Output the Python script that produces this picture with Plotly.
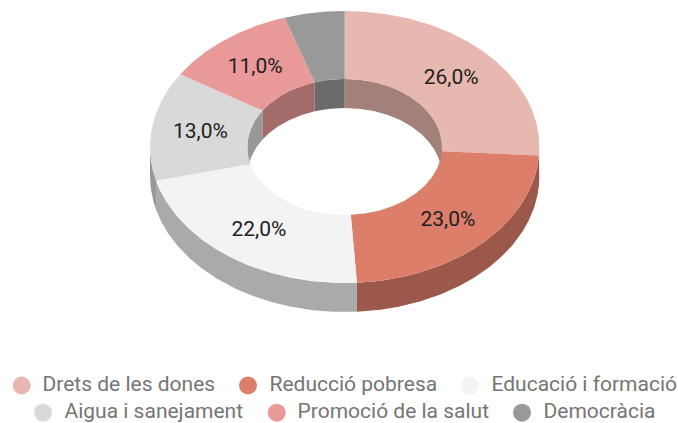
import numpy as np
import plotly.graph_objects as go

categories = ["Drets de les dones", "Reducció pobresa", "Educació i formació",
              "Aigua i sanejament", "Promoció de la salut", "Democràcia"]
values = [26, 23, 22, 13, 11, 5]
colors = ["#E6B8AF", "#DD7E6B", "#F3F3F3", "#D9D9D9", "#EA9999", "#999999"]

# Layout of the drawing, in pixels of the 678x423 canvas
W, H = 678, 423
CX, CY, RX, RY = 344.7, 147.0, 194.7, 136.0
HOLE = 0.5
DEPTH = 29.0
SHADE = 0.7
LABEL_DY = 1.5
LEGEND_MARK_X = [21.7, 248.0, 470.0, 43.0, 276.7, 522.0]
LEGEND_TEXT_X = [42.5, 269.5, 491.5, 64.5, 297.5, 543.5]
LEGEND_Y = [385.5, 385.5, 385.5, 412.7, 412.7, 412.7]
MIN_LABEL = 10


def arc(a0, a1, scale, dy=0.0):
    n = max(2, int(abs(a1 - a0)) * 2 + 2)
    t = np.radians(np.linspace(a0, a1, n))
    return CX + RX * scale * np.sin(t), CY - RY * scale * np.cos(t) + dy


def darker(hex_color):
    r, g, b = (int(hex_color[i:i + 2], 16) for i in (1, 3, 5))
    return f"rgb({r * SHADE:.0f},{g * SHADE:.0f},{b * SHADE:.0f})"


def poly(xs, ys, color):
    return go.Scatter(x=np.concatenate(xs), y=np.concatenate(ys), mode="lines",
                      line=dict(width=0), fill="toself", fillcolor=color,
                      hoverinfo="skip", showlegend=False)


total = sum(values)
edges = np.concatenate([[0], np.cumsum(values)]) * 360.0 / total
fig = go.Figure()

# Walls: outer one on the front half, inner one on the back half
for i, c in enumerate(colors):
    a0, a1 = edges[i], edges[i + 1]
    o0, o1 = max(a0, 90), min(a1, 270)
    if o1 > o0:
        x1, y1 = arc(o0, o1, 1)
        x2, y2 = arc(o1, o0, 1, DEPTH)
        fig.add_trace(poly([x1, x2], [y1, y2], darker(c)))
    for b0, b1 in ((a0, min(a1, 90)), (max(a0, 270), a1)):
        if b1 > b0:
            x1, y1 = arc(b0, b1, HOLE)
            x2, y2 = arc(b1, b0, HOLE, DEPTH)
            fig.add_trace(poly([x1, x2], [y1, y2], darker(c)))

# Top faces
for i, c in enumerate(colors):
    a0, a1 = edges[i], edges[i + 1]
    x1, y1 = arc(a0, a1, 1)
    x2, y2 = arc(a1, a0, HOLE)
    fig.add_trace(poly([x1, x2], [y1, y2], c))

# Slice labels
mid = np.radians((edges[:-1] + edges[1:]) / 2)
rm = (1 + HOLE) / 2
keep = [i for i, v in enumerate(values) if v >= MIN_LABEL]
fig.add_trace(go.Scatter(
    x=[CX + RX * rm * np.sin(mid[i]) for i in keep],
    y=[CY - RY * rm * np.cos(mid[i]) + LABEL_DY for i in keep],
    text=[f"{values[i]:.1f}%".replace(".", ",") for i in keep],
    mode="text", textposition="middle center",
    textfont=dict(family="Roboto", size=21, color="#212121"),
    hoverinfo="skip", showlegend=False))

# Legend
fig.add_trace(go.Scatter(x=LEGEND_MARK_X, y=LEGEND_Y, mode="markers",
                         marker=dict(size=18, color=colors, line=dict(width=0)),
                         hoverinfo="skip", showlegend=False))
fig.add_trace(go.Scatter(x=LEGEND_TEXT_X, y=LEGEND_Y, text=categories, mode="text",
                         textposition="middle right",
                         textfont=dict(family="Roboto", size=21, color="#757575"),
                         hoverinfo="skip", showlegend=False))

fig.update_layout(width=W, height=H, margin=dict(l=0, r=0, t=0, b=0),
                  paper_bgcolor="white", plot_bgcolor="white",
                  xaxis=dict(range=[0, W], visible=False, fixedrange=True),
                  yaxis=dict(range=[H, 0], visible=False, fixedrange=True))
fig.write_html("out.html", config=dict(displayModeBar=False),
               post_script="document.body.style.margin='0';document.documentElement.style.overflow='hidden';")
